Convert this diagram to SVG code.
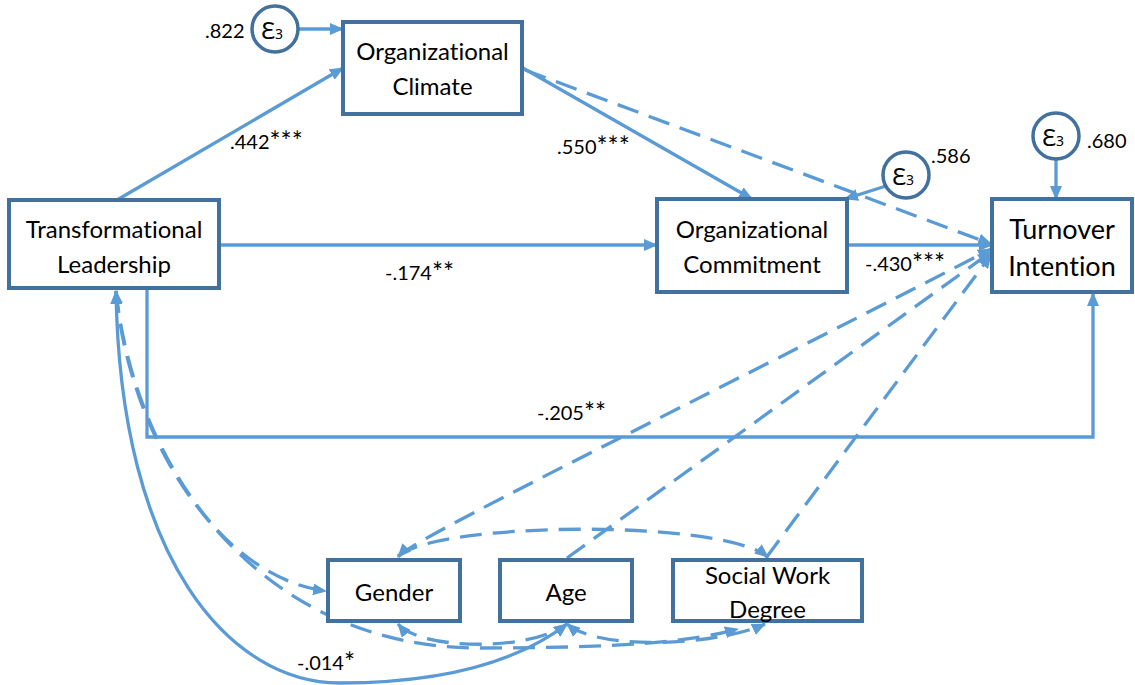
<svg xmlns="http://www.w3.org/2000/svg" width="1135" height="685" viewBox="0 0 1135 685">
<style>
text{font-variant-ligatures:none;font-feature-settings:"liga" 0,"clig" 0,"dlig" 0}
.box{fill:#fff;stroke:#41719C;stroke-width:4}
.eps{fill:#fff;stroke:#41719C;stroke-width:3.5}
.lbl{font-family:Lato,"Liberation Sans",sans-serif;font-size:24px;fill:#000;text-anchor:middle;dominant-baseline:central}
.big{font-size:27px}
.num{font-family:Lato,"Liberation Sans",sans-serif;font-size:20px;fill:#000;dominant-baseline:central}
.st{font-size:26px}
.epst{font-family:"Noto Sans","DejaVu Sans",sans-serif;font-size:24px;fill:#000;text-anchor:middle;dominant-baseline:central}
.c{fill:none;stroke:#5B9BD5;stroke-width:3.3}
.d{stroke-dasharray:22 11}
</style>
<defs>
<marker id="ah" markerUnits="userSpaceOnUse" markerWidth="14" markerHeight="12" refX="13" refY="6" orient="auto-start-reverse" viewBox="0 0 14 12">
<path d="M0,0 L14,6 L0,12 Z" fill="#5B9BD5" stroke="none"/>
</marker>
</defs>
<g id="connectors">
<path class="c" d="M298,29 L343,29" marker-end="url(#ah)"/>
<path class="c" d="M117,200 L343,68" marker-end="url(#ah)"/>
<path class="c" d="M523,68 L752,199" marker-end="url(#ah)"/>
<path class="c d" d="M525,70 L991,244" marker-end="url(#ah)"/>
<path class="c" d="M886,186 L845,199" marker-end="url(#ah)"/>
<path class="c" d="M1056,158 L1056,199" marker-end="url(#ah)"/>
<path class="c" d="M219,245 L657,245" marker-end="url(#ah)"/>
<path class="c" d="M847,245 L992,245" marker-end="url(#ah)"/>
<path class="c" d="M147,288 L147,437 L1093,437 L1093,293" marker-end="url(#ah)"/>
<path class="c d" d="M398,556 C430,530 700,400 991,249" marker-end="url(#ah)"/>
<path class="c d" d="M567,558 L991,252" marker-end="url(#ah)"/>
<path class="c d" d="M766,558 L991,255" marker-end="url(#ah)"/>
<path class="c d" d="M398,557 C430,522 720,518 768,557" marker-start="url(#ah)" marker-end="url(#ah)"/>
<path class="c d" d="M398,624 C420,650 530,652 567,624" marker-start="url(#ah)" marker-end="url(#ah)"/>
<path class="c d" d="M567,624 C600,652 720,645 765,624" marker-start="url(#ah)" marker-end="url(#ah)"/>
<path class="c d" d="M116,291 C128,430 215,577 326,591" marker-start="url(#ah)" marker-end="url(#ah)"/>
<path class="c d" d="M116,291 C135,470 260,648 480,648 C620,648 690,642 738,629" marker-end="url(#ah)"/>
<path class="c" d="M116,291 C120,560 230,683 340,683 C450,683 520,660 567,624" marker-start="url(#ah)" marker-end="url(#ah)"/>
</g>
<g id="labels">
<text class="num" x="230" y="141">.442<tspan class="st">***</tspan></text>
<text class="num" x="557" y="146">.550<tspan class="st">***</tspan></text>
<text class="num" x="385" y="272">-.174<tspan class="st">**</tspan></text>
<text class="num" x="865" y="263">-.430<tspan class="st">***</tspan></text>
<text class="num" x="537" y="412">-.205<tspan class="st">**</tspan></text>
<text class="num" x="297" y="662">-.014<tspan class="st">*</tspan></text>
<text class="num" x="205" y="30">.822</text>
<text class="num" x="931" y="155">.586</text>
<text class="num" x="1087" y="140">.680</text>
</g>
<g id="e1"><circle class="eps" cx="275" cy="29" r="23"/><text class="epst" x="272" y="29">Ɛ<tspan font-size="14" dy="4">3</tspan></text></g>
<g id="e2"><circle class="eps" cx="906" cy="175" r="23"/><text class="epst" x="903" y="175">Ɛ<tspan font-size="14" dy="4">3</tspan></text></g>
<g id="e3"><circle class="eps" cx="1056" cy="136" r="23"/><text class="epst" x="1053" y="136">Ɛ<tspan font-size="14" dy="4">3</tspan></text></g>
<g id="climate"><rect class="box" x="343" y="22" width="179" height="92"/><text class="lbl" x="432.5" y="50">Organizational</text><text class="lbl" x="432.5" y="85">Climate</text></g>
<g id="leadership"><rect class="box" x="9" y="200" width="210" height="88"/><text class="lbl" x="114" y="228">Transformational</text><text class="lbl" x="114" y="263">Leadership</text></g>
<g id="commitment"><rect class="box" x="657" y="199" width="190" height="93"/><text class="lbl" x="752" y="228">Organizational</text><text class="lbl" x="752" y="263">Commitment</text></g>
<g id="turnover"><rect class="box" x="992" y="199" width="140" height="93"/><text class="lbl big" x="1062" y="228">Turnover</text><text class="lbl big" x="1062" y="265">Intention</text></g>
<g id="gender"><rect class="box" x="328" y="560" width="132" height="61"/><text class="lbl" x="394" y="591">Gender</text></g>
<g id="age"><rect class="box" x="500" y="560" width="132" height="61"/><text class="lbl" x="566" y="591">Age</text></g>
<g id="degree"><rect class="box" x="673" y="560" width="189" height="61"/><text class="lbl" x="767.5" y="574">Social Work</text><text class="lbl" x="767.5" y="608">Degree</text></g>
</svg>
